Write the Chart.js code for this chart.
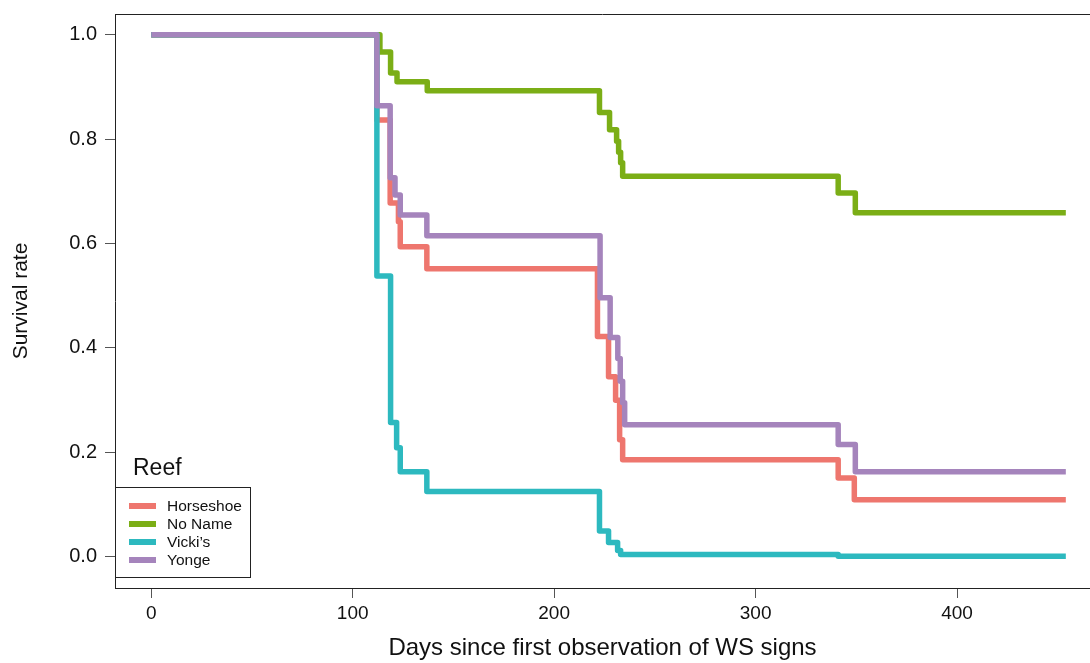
<!DOCTYPE html>
<html>
<head>
<meta charset="utf-8">
<script src="https://cdn.jsdelivr.net/npm/chart.js@4.4.1/dist/chart.umd.min.js"></script>
<style>
  html, body { margin: 0; padding: 0; background: #fff; }
  #wrap { position: relative; width: 1090px; height: 663px; overflow: hidden; }
  #legend {
    position: absolute; left: 115px; top: 487px; width: 136px; height: 91px;
    border: 1px solid #222; background: #fff; box-sizing: border-box;
    font-family: "Liberation Sans", Arial, sans-serif; color: #111;
  }
  #legendTitle {
    position: absolute; left: 133px; top: 454px;
    font-family: "Liberation Sans", Arial, sans-serif; font-size: 23px; color: #111;
  }
  .item { position: absolute; left: 0; height: 18px; font-size: 15.5px; line-height: 18px; }
  .item span.sw { position: absolute; left: 13px; top: 6px; width: 27px; height: 6px; }
  .item span.lb { position: absolute; left: 51px; top: 0; white-space: nowrap; }
</style>
</head>
<body>
<div id="wrap">
  <canvas id="chart" width="1090" height="663"></canvas>
  <div id="legendTitle">Reef</div>
  <div id="legend"></div>
</div>
<script>
// Kaplan-Meier steps: day of each drop and survival after it
const reefs = ['Horseshoe', 'No Name', "Vicki\u2019s", 'Yonge'];
const colors = ['#EE766E', '#7BAE16', '#2DB9BF', '#A584BC'];

const horseshoeDays = [0, 112, 118.6, 122.7, 123.6, 136.8, 221.5, 227, 230.5, 232.5, 234, 341, 349, 454];
const horseshoeSurv = [1, 0.837, 0.678, 0.642, 0.594, 0.552, 0.422, 0.345, 0.30, 0.224, 0.186, 0.151, 0.109, 0.109];

const noNameDays = [0, 113.5, 118.8, 122, 137, 222.5, 227.5, 231, 232, 233, 234, 341, 349.5, 454];
const noNameSurv = [1, 0.967, 0.927, 0.91, 0.893, 0.851, 0.818, 0.796, 0.775, 0.755, 0.729, 0.697, 0.659, 0.659];

const vickisDays = [0, 112, 118.8, 121.8, 123.6, 136.8, 222.5, 227, 231.5, 233, 341, 454];
const vickisSurv = [1, 0.538, 0.257, 0.209, 0.163, 0.125, 0.049, 0.027, 0.012, 0.004, 0.001, 0.001];

const yongeDays = [0, 112, 118.6, 121, 123.6, 136.8, 222.8, 227.8, 231.6, 232.8, 234, 235, 341, 349.5, 454];
const yongeSurv = [1, 0.864, 0.726, 0.693, 0.655, 0.615, 0.496, 0.42, 0.38, 0.336, 0.295, 0.253, 0.215, 0.163, 0.163];

const xTicks = [0, 100, 200, 300, 400];
const yTicks = [0, 0.2, 0.4, 0.6, 0.8, 1.0];

const seriesDays = [horseshoeDays, noNameDays, vickisDays, yongeDays];
const seriesSurv = [horseshoeSurv, noNameSurv, vickisSurv, yongeSurv];
const drawOrder = [3, 2, 1, 0]; // lower order is drawn on top

const FONT = '"Liberation Sans", Arial, sans-serif';

const datasets = reefs.map((name, i) => ({
    label: name,
    data: seriesDays[i].map((d, j) => ({ x: d, y: seriesSurv[i][j] })),
    borderColor: colors[i],
    borderWidth: 5.5,
    stepped: 'before',
    pointRadius: 0,
    fill: false,
    borderJoinStyle: 'round',
    order: drawOrder[i]
}));

// top frame line (plot is open on the right side)
const topLine = {
    id: 'topLine',
    afterDraw(chart) {
        const { ctx, chartArea } = chart;
        ctx.save();
        ctx.strokeStyle = '#222';
        ctx.lineWidth = 1;
        ctx.beginPath();
        ctx.moveTo(chartArea.left, chartArea.top + 0.5);
        ctx.lineTo(chartArea.right, chartArea.top + 0.5);
        ctx.stroke();
        ctx.restore();
    }
};

new Chart(document.getElementById('chart'), {
    type: 'line',
    data: { datasets },
    plugins: [topLine],
    options: {
        responsive: false,
        animation: false,
        layout: { padding: { top: 14, right: 0, left: 0, bottom: 0 } },
        plugins: { legend: { display: false }, tooltip: { enabled: false } },
        scales: {
            x: {
                type: 'linear',
                min: -18,
                max: 466,
                afterFit: (s) => { s.height = 75; s.paddingLeft = 0; s.paddingRight = 0; },
                afterBuildTicks: (s) => { s.ticks = xTicks.map(v => ({ value: v })); },
                grid: { drawOnChartArea: false, drawTicks: true, tickLength: 10, color: '#555' },
                border: { display: true, color: '#222', width: 1 },
                ticks: { color: '#111', padding: 4, font: { family: FONT, size: 19 } },
                title: {
                    display: true, text: 'Days since first observation of WS signs',
                    color: '#111', font: { family: FONT, size: 24 }, padding: { top: 0, bottom: 0 }
                }
            },
            y: {
                min: -0.06,
                max: 1.04,
                afterFit: (s) => { s.width = 115; s.paddingTop = 0; s.paddingBottom = 0; },
                afterBuildTicks: (s) => { s.ticks = yTicks.map(v => ({ value: v })); },
                grid: { drawOnChartArea: false, drawTicks: true, tickLength: 10, color: '#555' },
                border: { display: true, color: '#222', width: 1 },
                ticks: { color: '#111', padding: 8, font: { family: FONT, size: 20 },
                         callback: (v) => v.toFixed(1) },
                title: {
                    display: true, text: 'Survival rate',
                    color: '#111', font: { family: FONT, size: 21 }, padding: { top: 9, bottom: 0 }
                }
            }
        }
    }
});

// legend box, bottom left inside the plot
const legendEl = document.getElementById('legend');
reefs.forEach((name, i) => {
    const item = document.createElement('div');
    item.className = 'item';
    item.style.top = (9 + i * 18) + 'px';
    item.innerHTML = '<span class="sw" style="background:' + colors[i] + '"></span><span class="lb">' + name + '</span>';
    legendEl.appendChild(item);
});
</script>
</body>
</html>
